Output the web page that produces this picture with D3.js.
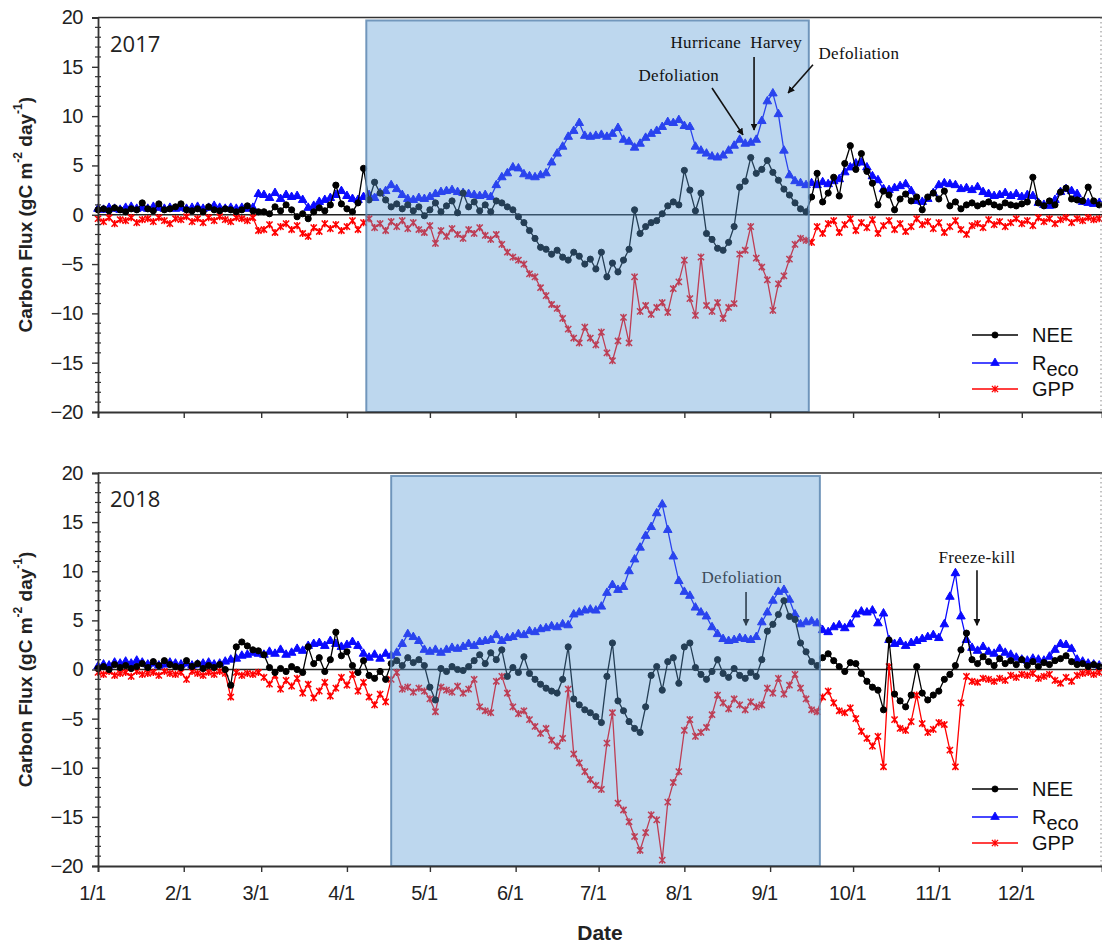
<!DOCTYPE html>
<html>
<head>
<meta charset="utf-8">
<script src="https://cdn.jsdelivr.net/npm/d3@7"></script>
<style>
  body { margin: 0; background: #fff; }
  svg { display: block; }
</style>
</head>
<body>
<svg id="chart" width="1102" height="945"></svg>
<script>
// Daily carbon flux, sampled every second day of the year (day 0 = Jan 1)
const dayStep = 2;

const monthStarts = [0, 31, 59, 90, 120, 151, 181, 212, 243, 273, 304, 334];
const monthLabels = ["1/1", "2/1", "3/1", "4/1", "5/1", "6/1", "7/1", "8/1", "9/1", "10/1", "11/1", "12/1"];
const yMajorTicks = [-20, -15, -10, -5, 0, 5, 10, 15, 20];

// ---- 2017 ----
const reco2017 = [
  0.6,0.5,0.7,0.6,0.5,0.7,0.8,0.6,0.7,0.6,0.8,0.7,0.6,0.7,0.6,
  0.7,0.6,0.7,0.8,0.6,0.7,0.9,0.7,0.6,0.7,0.6,0.7,0.6,0.7,2.1,
  2.0,1.7,2.2,1.6,2.0,1.8,1.9,1.5,0.7,0.9,1.3,1.5,1.7,2.0,2.4,
  1.9,1.6,1.5,1.8,2.0,1.7,2.2,2.4,3.0,2.6,2.0,1.6,1.5,1.7,1.6,
  1.8,2.1,2.3,2.4,2.5,2.3,2.2,2.1,2.0,1.9,2.0,1.8,3.0,3.8,4.2,
  4.8,4.7,4.1,3.9,3.8,4.0,4.2,5.3,6.2,6.9,7.9,8.5,9.3,8.0,7.9,
  8.0,8.1,7.9,8.2,8.8,7.6,7.4,6.8,7.2,7.8,8.2,8.5,8.9,9.4,9.3,
  9.6,9.0,8.9,6.9,6.5,6.2,5.9,5.8,6.0,6.5,7.0,7.6,7.2,7.3,7.6,
  9.5,11.5,12.3,10.2,6.5,4.0,3.4,3.2,3.0,3.2,3.0,3.3,3.1,3.4,3.6,
  4.3,4.8,5.2,5.3,4.8,3.9,3.5,2.6,2.5,2.7,2.9,3.1,2.4,1.4,1.3,
  1.6,2.2,3.0,3.2,3.1,3.0,2.6,2.7,2.5,2.8,2.3,2.1,1.9,2.0,2.2,
  1.9,2.1,1.8,2.0,1.9,1.2,1.0,0.9,1.5,2.3,2.6,2.4,2.1,1.3,1.2,
  1.1,1.2
];
const nee2017 = [
  0.5,0.6,0.4,0.7,0.5,0.3,0.6,0.5,1.2,0.6,0.4,1.1,0.5,0.6,0.8,
  1.1,0.5,0.4,0.6,0.3,0.8,0.5,0.4,0.6,0.5,0.3,0.5,0.9,0.4,0.3,
  0.3,0.1,0.8,0.4,1.0,0.5,-0.2,0.1,-0.4,0.3,0.7,0.4,1.0,3.0,1.1,
  0.6,0.3,1.2,4.7,1.5,3.3,2.2,1.5,0.8,1.1,0.6,1.0,0.4,0.8,-0.1,
  0.5,1.2,0.3,0.9,1.4,0.2,2.2,0.8,1.3,0.4,1.0,0.3,1.4,1.2,0.8,
  0.5,-0.2,-0.8,-1.6,-2.4,-3.3,-3.5,-4.0,-3.6,-4.3,-4.6,-3.8,-4.2,-5.0,-4.5,
  -5.5,-3.8,-6.3,-4.9,-5.8,-4.6,-3.5,0.5,-1.9,-1.2,-0.8,-0.6,0.1,0.9,1.3,
  1.0,4.5,2.5,0.4,2.2,-1.9,-2.5,-3.4,-3.6,-2.8,-1.2,2.8,3.4,5.8,4.2,
  4.6,5.5,4.3,3.5,2.6,2.0,1.2,0.6,0.3,1.8,4.2,1.3,2.2,3.8,1.9,
  5.2,7.0,4.6,6.2,4.4,3.2,1.0,2.4,2.0,0.5,1.6,2.1,1.4,1.8,0.5,
  1.8,2.2,1.6,2.4,0.9,1.3,0.6,1.0,1.2,0.9,1.1,1.3,1.0,0.8,1.2,
  1.0,0.9,1.1,1.3,3.8,1.2,0.9,1.4,1.0,2.3,2.7,1.6,1.5,1.4,2.8,
  1.4,1.0
];
const gpp2017 = [
  -0.4,-0.7,-0.3,-0.9,-0.5,-0.6,-0.3,-0.8,-0.5,-0.4,-0.7,-0.3,-0.6,-0.9,-0.4,
  -0.5,-0.2,-0.7,-0.4,-0.8,-0.3,-0.6,-0.2,-0.5,-0.7,-0.3,-0.4,-0.6,-0.3,-1.6,
  -1.5,-1.0,-1.8,-1.2,-0.9,-1.5,-1.1,-1.9,-2.2,-1.3,-1.7,-0.9,-1.4,-1.0,-1.6,
  -1.2,-0.6,-1.5,-0.8,-0.4,-1.3,-0.9,-1.6,-0.7,-1.2,-0.6,-1.4,-0.8,-1.5,-1.8,
  -1.1,-2.9,-1.6,-2.2,-1.4,-2.0,-2.4,-1.5,-1.9,-1.3,-2.1,-2.5,-2.0,-3.0,-3.8,
  -4.3,-4.6,-5.0,-6.0,-6.3,-7.4,-8.2,-9.1,-9.5,-10.5,-11.6,-12.5,-13.0,-11.4,-12.5,
  -13.2,-11.9,-14.0,-14.8,-12.8,-10.4,-13.0,-6.3,-9.8,-9.2,-10.1,-9.4,-8.9,-9.9,-7.5,
  -6.8,-4.6,-8.5,-10.2,-4.3,-9.2,-9.8,-8.9,-10.5,-9.4,-9.0,-4.0,-3.6,-1.2,-4.4,
  -5.3,-6.6,-9.7,-7.0,-6.2,-4.5,-3.0,-2.4,-2.6,-2.8,-1.2,-1.9,-0.9,-0.6,-1.8,
  -1.0,-0.4,-1.6,-0.8,-1.3,-0.5,-1.9,-1.1,-0.6,-1.5,-0.9,-1.7,-1.2,-0.4,-1.0,
  -0.7,-1.4,-0.8,-1.8,-1.2,-0.6,-1.5,-2.0,-1.1,-0.9,-1.3,-0.5,-1.0,-0.7,-1.2,
  -0.8,-0.4,-0.9,-0.6,-1.1,-0.3,-0.7,-0.4,-0.9,-0.5,-0.3,-0.8,-0.4,-0.6,-0.3,
  -0.5,-0.4
];

// ---- 2018 ----
const reco2018 = [
  0.3,0.5,0.4,0.7,0.6,0.8,0.6,0.9,0.7,0.5,0.6,0.4,0.5,0.7,0.6,
  0.5,0.6,0.4,0.5,0.6,0.7,0.5,0.6,0.8,1.0,1.1,1.4,1.5,1.7,1.6,
  1.5,1.8,1.6,2.0,1.5,1.7,2.1,1.9,2.4,2.6,2.7,2.4,2.9,2.6,2.3,
  2.5,2.8,2.4,1.6,1.2,1.5,1.1,1.6,1.4,1.7,2.6,3.6,3.3,2.9,2.0,
  1.8,2.0,1.7,2.0,2.2,2.1,2.3,2.6,2.4,2.8,2.9,3.0,3.5,2.9,3.2,
  3.3,3.6,3.5,3.9,3.8,4.1,4.2,4.4,4.3,4.6,4.5,5.6,5.8,6.0,6.1,
  6.0,6.4,7.8,8.6,8.1,8.4,10.0,11.2,12.4,13.6,14.5,15.9,16.8,14.2,11.5,
  9.0,7.9,7.5,6.3,5.8,5.4,4.3,3.6,3.1,2.9,3.0,3.2,3.1,3.0,3.3,
  4.8,5.8,7.0,7.9,8.1,7.1,5.6,4.6,4.8,4.9,4.7,4.0,3.8,4.3,4.5,
  4.2,4.6,5.6,5.9,5.8,6.0,4.7,5.7,3.0,2.6,2.8,2.4,2.7,2.9,3.1,
  3.3,3.5,3.2,4.6,7.4,9.8,5.4,3.0,2.2,1.9,2.3,1.8,1.6,2.1,1.7,
  1.5,1.2,1.0,0.9,1.1,1.0,0.9,1.3,2.0,2.6,2.5,2.1,1.0,0.8,0.6,
  0.5,0.4
];
const nee2018 = [
  0.1,0.3,0.0,0.5,0.2,0.4,0.1,0.3,0.6,0.2,0.8,0.4,0.9,0.5,0.3,
  0.2,0.9,0.3,0.6,0.1,0.4,0.2,0.5,0.0,-1.6,2.3,2.8,2.4,2.0,1.9,
  1.5,0.2,-0.3,0.1,-0.2,0.3,0.0,-0.3,2.3,0.6,1.2,-0.2,1.0,3.8,1.4,
  1.8,0.4,-0.3,0.9,-0.6,-0.9,-0.2,-1.0,0.6,0.9,0.4,1.2,0.7,1.0,0.4,
  -1.8,-3.1,0.1,-0.2,0.3,0.0,-0.1,0.3,0.9,1.5,0.6,1.7,1.0,2.0,-0.7,
  0.2,-0.3,1.3,-0.4,-1.0,-1.5,-1.9,-2.2,-2.4,-1.0,2.3,-3.0,-3.6,-4.1,-4.4,
  -4.8,-5.4,-0.7,2.7,-3.2,-4.2,-5.3,-6.0,-6.4,-3.8,-0.6,0.3,-2.1,0.8,1.2,
  -1.4,2.3,2.7,0.2,-0.5,-1.0,-0.2,1.0,-0.4,-0.8,0.1,-0.6,-0.9,-0.3,-0.7,
  1.0,3.9,4.6,5.6,7.0,5.4,5.1,2.7,1.8,0.8,0.4,1.2,1.6,0.9,0.3,
  -0.2,0.7,0.6,-0.4,-1.2,-1.8,-2.1,-4.1,3.0,-2.5,-3.2,-3.8,-2.6,0.3,-2.4,
  -3.1,-2.6,-2.2,-1.0,-0.5,0.4,2.0,3.7,1.0,0.6,1.3,0.8,0.4,1.1,0.6,
  0.9,0.5,1.0,0.4,0.8,0.3,0.7,0.5,0.9,1.1,1.4,0.8,0.5,0.6,0.3,
  0.5,0.3
];
const gpp2018 = [
  -0.3,-0.5,-0.2,-0.6,-0.4,-0.3,-0.7,-0.2,-0.5,-0.4,-0.3,-0.6,-0.2,-0.4,-0.5,
  -0.3,-1.0,-0.2,-0.4,-0.6,-0.3,-0.5,-0.2,-0.4,-2.8,-0.3,-0.6,-0.4,-0.5,-0.3,
  -0.8,-1.5,-0.6,-2.0,-1.1,-1.7,-0.9,-2.4,-1.5,-2.9,-2.2,-1.3,-2.7,-1.9,-0.8,
  -1.6,-0.5,-2.2,-1.3,-2.8,-3.6,-2.5,-3.3,-1.0,-0.3,-2.0,-1.8,-2.3,-1.9,-2.2,
  -3.0,-4.3,-1.8,-2.1,-2.3,-1.7,-2.4,-2.0,-1.0,-3.8,-4.2,-4.4,-1.2,-0.7,-2.4,
  -3.8,-4.5,-4.2,-5.1,-5.8,-6.5,-6.0,-7.2,-7.8,-7.0,-2.0,-8.6,-9.5,-10.4,-11.2,
  -11.8,-12.2,-7.5,-4.4,-13.6,-14.3,-15.5,-17.0,-18.4,-16.6,-14.8,-15.3,-19.4,-13.5,-11.5,
  -10.4,-6.2,-5.1,-6.8,-6.4,-5.9,-4.6,-2.6,-3.4,-4.0,-3.0,-3.6,-4.1,-3.3,-3.8,
  -3.6,-1.9,-2.4,-0.9,-2.5,-1.6,-0.5,-1.9,-3.0,-4.1,-4.3,-2.8,-2.2,-3.4,-4.2,
  -4.4,-3.9,-5.0,-6.3,-7.0,-7.8,-6.8,-9.9,0.3,-5.1,-6.0,-6.2,-5.3,-2.6,-5.5,
  -6.4,-6.1,-5.4,-5.6,-8.2,-9.9,-3.4,-0.7,-1.2,-1.3,-0.9,-1.0,-1.2,-0.9,-1.1,
  -0.6,-0.8,-0.5,-0.6,-0.4,-0.9,-0.7,-0.5,-1.1,-1.4,-0.8,-1.2,-0.6,-0.4,-0.3,
  -0.5,-0.3
];

// Growing-season windows (day of year) and event notes (day, flux)
const season2017 = [97, 257];
const season2018 = [106, 261];
const notes2017 = [
  { text: "Hurricane\u00a0\u00a0Harvey", day: 230.8, value: 17.5 },
  { text: "Defoliation", day: 210, value: 14.1 },
  { text: "Defoliation", day: 275.1, value: 16.4 }
];
const arrows2017 = [
  { from: [222, 12.85], to: [233.2, 8.1] },
  { from: [237.2, 16.0], to: [237.2, 8.6] },
  { from: [258.5, 15.2], to: [249.5, 12.35] }
];
const notes2018 = [
  { text: "Defoliation", day: 232.8, value: 9.4, color: "#3c4c5c" },
  { text: "Freeze-kill", day: 317.8, value: 11.45, color: "#111" }
];
const arrows2018 = [
  { from: [234.3, 7.9], to: [234.3, 4.5], color: "#2f3f4f" },
  { from: [317.8, 10.1], to: [317.8, 4.5], color: "#111" }
];

const seriesStyle = {
  nee: { label: "NEE", color: "#000000", marker: "circle" },
  reco: { label: "Reco", color: "#0a0aff", marker: "triangle" },
  gpp: { label: "GPP", color: "#ff0000", marker: "star" }
};

const SANS = "'Liberation Sans', Arial, Helvetica, sans-serif";
const SERIF = "'Liberation Serif', 'Times New Roman', serif";

const svg = d3.select("#chart");
const xLeft = 98, xRight = 1102;
const days = d3.range(0, reco2017.length * dayStep, dayStep);
const x = d3.scaleLinear().domain([0, 363]).range([xLeft, xRight]);

const panels = [
  { year: "2017", top: 17.5, bottom: 412, reco: reco2017, nee: nee2017, gpp: gpp2017,
    season: season2017, notes: notes2017, arrows: arrows2017, xLabels: false },
  { year: "2018", top: 473, bottom: 866, reco: reco2018, nee: nee2018, gpp: gpp2018,
    season: season2018, notes: notes2018, arrows: arrows2018, xLabels: true }
];

// arrowhead marker definitions
const defs = svg.append("defs");
["#111", "#2f3f4f"].forEach((c, i) => {
  defs.append("marker")
    .attr("id", "arrow" + i)
    .attr("viewBox", "0 0 10 10")
    .attr("refX", 9).attr("refY", 5)
    .attr("markerWidth", 7).attr("markerHeight", 7)
    .attr("markerUnits", "userSpaceOnUse")
    .attr("orient", "auto")
    .append("path").attr("d", "M0,0L10,5L0,10Z").attr("fill", c);
});

function markerPath(kind) {
  if (kind === "circle") return d3.symbol().type(d3.symbolCircle).size(30)();
  if (kind === "triangle") return d3.symbol().type(d3.symbolTriangle).size(32)();
  // asterisk: an x with a vertical stroke
  return "M-3.1,-3.1L3.1,3.1M-3.1,3.1L3.1,-3.1M0,-3.6L0,3.6";
}

function drawSeries(g, values, y, style) {
  const line = d3.line().x((d, i) => x(days[i])).y(d => y(d));
  g.append("path")
    .attr("d", line(values))
    .attr("fill", "none")
    .attr("stroke", style.color)
    .attr("stroke-width", 1.3);
  const p = markerPath(style.marker);
  const isStar = style.marker === "star";
  g.append("g").selectAll("path")
    .data(values)
    .join("path")
    .attr("transform", (d, i) => `translate(${x(days[i])},${y(d)})`)
    .attr("d", p)
    .attr("fill", isStar ? "none" : style.color)
    .attr("stroke", style.color)
    .attr("stroke-width", isStar ? 1.5 : 1);
}

panels.forEach(panel => {
  const y = d3.scaleLinear().domain([-20, 20]).range([panel.bottom, panel.top]);
  const g = svg.append("g");

  // zero reference line
  g.append("line")
    .attr("x1", xLeft).attr("x2", xRight)
    .attr("y1", y(0)).attr("y2", y(0))
    .attr("stroke", "#222").attr("stroke-width", 1.3);

  drawSeries(g, panel.gpp, y, seriesStyle.gpp);
  drawSeries(g, panel.reco, y, seriesStyle.reco);
  drawSeries(g, panel.nee, y, seriesStyle.nee);

  // growing-season shading laid over the series
  const sx0 = x(panel.season[0]), sx1 = x(panel.season[1]);
  const sy0 = y(19.7), sy1 = y(-20);
  g.append("rect")
    .attr("x", sx0).attr("y", sy0)
    .attr("width", sx1 - sx0).attr("height", sy1 - sy0)
    .attr("fill", "rgb(91,155,213)").attr("fill-opacity", 0.4)
    .attr("stroke", "#5f88b2").attr("stroke-width", 2).attr("stroke-opacity", 0.85);

  // frame: top border and dotted right edge
  g.append("line")
    .attr("x1", xLeft).attr("x2", xRight)
    .attr("y1", panel.top).attr("y2", panel.top)
    .attr("stroke", "#333").attr("stroke-width", 1.6);
  g.append("line")
    .attr("x1", xRight - 1).attr("x2", xRight - 1)
    .attr("y1", panel.top).attr("y2", panel.bottom)
    .attr("stroke", "#888").attr("stroke-width", 1).attr("stroke-dasharray", "1.5,3");

  // y axis with major labels and minor ticks
  const yAxis = d3.axisLeft(y).tickValues(yMajorTicks).tickSize(6).tickPadding(9)
    .tickFormat(d3.format("d"));
  const ya = g.append("g").attr("transform", `translate(${xLeft},0)`).call(yAxis);
  ya.select(".domain").attr("stroke", "#333").attr("stroke-width", 1.8);
  ya.selectAll(".tick line").attr("stroke", "#333").attr("stroke-width", 1.4);
  ya.selectAll(".tick text")
    .attr("font-family", SANS).attr("font-size", 20).attr("fill", "#222")
    .attr("letter-spacing", "-0.5");
  g.append("g").selectAll("line")
    .data(d3.range(-20, 21, 1).filter(v => v % 5 !== 0))
    .join("line")
    .attr("x1", xLeft - 3).attr("x2", xLeft + 3)
    .attr("y1", d => y(d)).attr("y2", d => y(d))
    .attr("stroke", "#333").attr("stroke-width", 1.2);

  // x axis along the bottom
  const xAxis = d3.axisBottom(x).tickValues(monthStarts).tickSize(6).tickPadding(14)
    .tickFormat((d, i) => panel.xLabels ? monthLabels[i] : "");
  const xa = g.append("g").attr("transform", `translate(0,${panel.bottom})`).call(xAxis);
  xa.select(".domain").attr("stroke", "#333").attr("stroke-width", 1.8);
  xa.selectAll(".tick line").attr("stroke", "#333").attr("stroke-width", 1.4);
  xa.selectAll(".tick text")
    .attr("font-family", SANS).attr("font-size", 20).attr("fill", "#222")
    .attr("dx", -6).attr("letter-spacing", "-0.5");

  // y-axis title
  const title = g.append("text")
    .attr("transform", `translate(25,${(panel.top + panel.bottom) / 2}) rotate(-90)`)
    .attr("text-anchor", "middle")
    .attr("dominant-baseline", "central")
    .attr("font-family", SANS).attr("font-weight", "bold").attr("font-size", 19)
    .attr("fill", "#222");
  title.append("tspan").text("Carbon Flux (gC m");
  title.append("tspan").attr("baseline-shift", "super").attr("font-size", 12).text("-2");
  title.append("tspan").text(" day");
  title.append("tspan").attr("baseline-shift", "super").attr("font-size", 12).text("-1");
  title.append("tspan").text(")");

  // year label
  g.append("text")
    .attr("x", 110).attr("y", panel.top + 34)
    .attr("font-family", "'Open Sans', sans-serif").attr("font-size", 22)
    .attr("fill", "#222")
    .text(panel.year);

  // event notes and arrows
  panel.notes.forEach(n => {
    g.append("text")
      .attr("x", x(n.day)).attr("y", y(n.value))
      .attr("text-anchor", "middle").attr("dominant-baseline", "central")
      .attr("font-family", SERIF).attr("font-size", 17)
      .attr("letter-spacing", "0.3")
      .attr("fill", n.color || "#111")
      .text(n.text);
  });
  panel.arrows.forEach(a => {
    g.append("line")
      .attr("x1", x(a.from[0])).attr("y1", y(a.from[1]))
      .attr("x2", x(a.to[0])).attr("y2", y(a.to[1]))
      .attr("stroke", a.color || "#111").attr("stroke-width", 1.6)
      .attr("marker-end", a.color === "#2f3f4f" ? "url(#arrow1)" : "url(#arrow0)");
  });

  // legend
  const legendRows = [
    { key: "nee", offset: 77 },
    { key: "reco", offset: 49 },
    { key: "gpp", offset: 23 }
  ];
  legendRows.forEach(r => {
    const st = seriesStyle[r.key];
    const ly = panel.bottom - r.offset;
    const lg = g.append("g");
    lg.append("line")
      .attr("x1", 972).attr("x2", 1018).attr("y1", ly).attr("y2", ly)
      .attr("stroke", st.color).attr("stroke-width", 1.6);
    lg.append("path")
      .attr("transform", `translate(995,${ly})`)
      .attr("d", markerPath(st.marker))
      .attr("fill", st.marker === "star" ? "none" : st.color)
      .attr("stroke", st.color).attr("stroke-width", st.marker === "star" ? 1.3 : 0.8);
    const t = lg.append("text")
      .attr("x", 1032).attr("y", ly).attr("dy", "0.36em")
      .attr("font-family", SANS).attr("font-size", 20).attr("fill", "#111");
    if (r.key === "reco") {
      t.append("tspan").text("R");
      t.append("tspan").attr("dy", 6).text("eco");
    } else {
      t.text(st.label);
    }
  });
});

// shared x-axis title
svg.append("text")
  .attr("x", 600).attr("y", 940)
  .attr("text-anchor", "middle")
  .attr("font-family", SANS).attr("font-weight", "bold").attr("font-size", 21)
  .attr("fill", "#222")
  .text("Date");
</script>
</body>
</html>
